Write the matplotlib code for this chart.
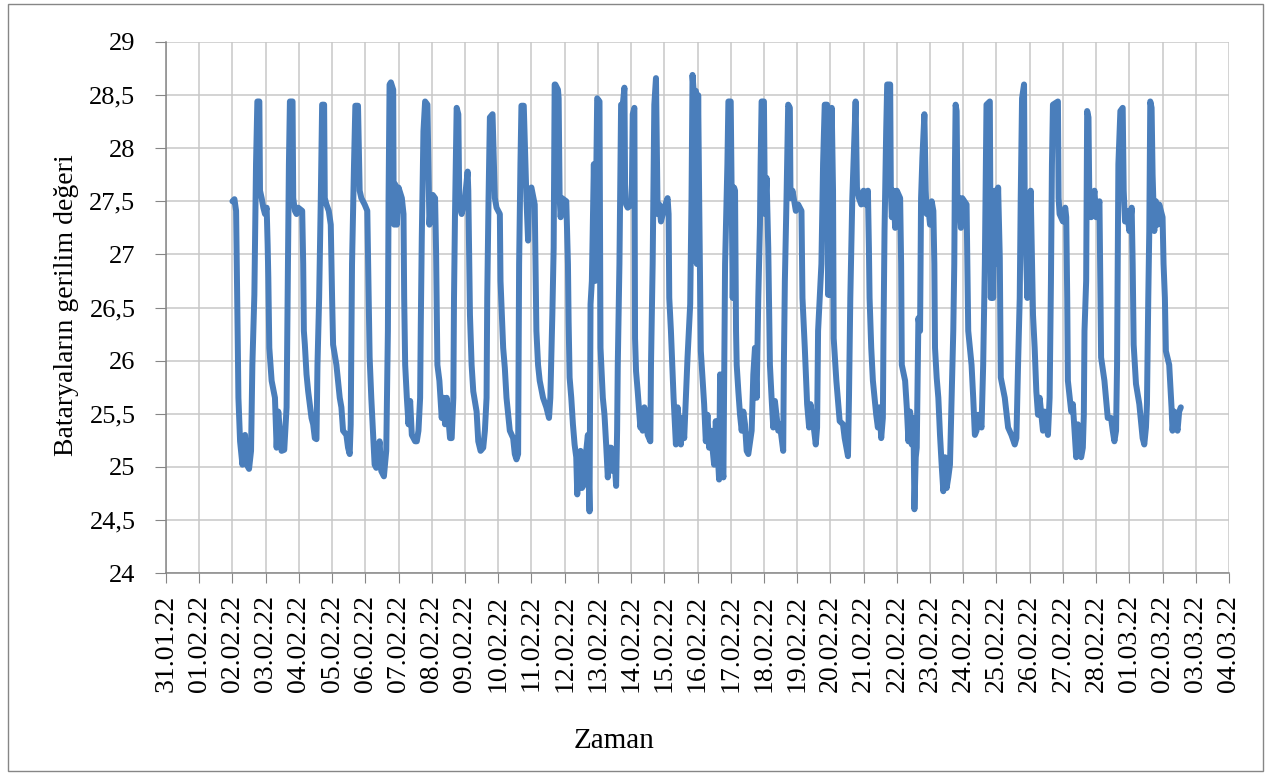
import matplotlib
matplotlib.use("Agg")
import matplotlib.pyplot as plt
from matplotlib.patches import Rectangle

# time in days since 31.01.22 00:00, one line per daily cycle
t_days = [
    2.00, 2.06, 2.11, 2.13, 2.16, 2.18, 2.23, 2.30, 2.38, 2.43, 2.50, 2.56, 2.60, 2.66, 2.71, 2.75, 2.81,
    2.83, 2.88, 2.93, 2.98, 3.03, 3.06, 3.08, 3.11, 3.18, 3.28, 3.33, 3.38, 3.48, 3.56, 3.63, 3.66, 3.70, 3.73, 3.81,
    3.83, 3.88, 3.93, 3.98, 4.10, 4.13, 4.15, 4.18, 4.23, 4.28, 4.38, 4.43, 4.48, 4.53, 4.56, 4.61, 4.66, 4.70, 4.76,
    4.78, 4.83, 4.90, 4.96, 5.00, 5.03, 5.13, 5.23, 5.28, 5.33, 5.43, 5.48, 5.53, 5.56, 5.60, 5.66, 5.70, 5.78,
    5.83, 5.88, 5.98, 6.06, 6.10, 6.13, 6.18, 6.23, 6.28, 6.33, 6.43, 6.48, 6.56, 6.63, 6.68, 6.70, 6.73, 6.77, 6.84,
    6.85, 6.87, 6.90, 6.95, 7.00, 7.10, 7.15, 7.17, 7.20, 7.25, 7.30, 7.35, 7.40, 7.50, 7.55, 7.60, 7.65, 7.67, 7.70, 7.75, 7.80, 7.87,
    7.93, 7.97, 8.03, 8.10, 8.13, 8.17, 8.23, 8.30, 8.35, 8.40, 8.45, 8.55, 8.60, 8.65, 8.67, 8.70, 8.73, 8.75, 8.80,
    8.83, 8.90, 9.00, 9.08, 9.10, 9.13, 9.15, 9.20, 9.25, 9.35, 9.40, 9.47, 9.55, 9.60, 9.65, 9.67, 9.71, 9.75, 9.83,
    9.90, 9.95, 10.05, 10.07, 10.15, 10.20, 10.25, 10.35, 10.45, 10.50, 10.55, 10.60, 10.63, 10.67, 10.70, 10.77,
    10.85, 10.90, 10.93, 11.00, 11.10, 11.13, 11.15, 11.20, 11.25, 11.35, 11.45, 11.53, 11.57, 11.63, 11.67, 11.70, 11.72, 11.80, 11.82,
    11.85, 11.88, 11.92, 12.05, 12.10, 12.12, 12.15, 12.20, 12.25, 12.30, 12.35, 12.38, 12.42, 12.48, 12.52, 12.58, 12.65, 12.70, 12.75, 12.78, 12.82, 12.88, 12.92, 12.95, 12.98, 13.05,
    13.08, 13.15, 13.20, 13.25, 13.30, 13.35, 13.40, 13.45, 13.50, 13.55, 13.58, 13.60, 13.65, 13.70, 13.75, 13.80,
    13.82, 13.85, 13.90, 14.02, 14.05, 14.10, 14.12, 14.15, 14.20, 14.28, 14.32, 14.35, 14.40, 14.50, 14.58, 14.60, 14.65, 14.70, 14.75,
    14.80, 14.85, 14.90, 15.00, 15.10, 15.13, 15.15, 15.20, 15.28, 15.35, 15.40, 15.50, 15.55, 15.60, 15.65, 15.70, 15.78, 15.82, 15.85, 15.90, 15.95, 15.98, 16.02, 16.05,
    16.10, 16.15, 16.20, 16.25, 16.30, 16.35, 16.40, 16.50, 16.55, 16.60, 16.65, 16.68, 16.73, 16.78, 16.83, 16.90, 16.93, 17.00,
    17.03, 17.06, 17.10, 17.13, 17.16, 17.18, 17.23, 17.28, 17.33, 17.38, 17.43, 17.48, 17.53, 17.63, 17.68, 17.73, 17.78, 17.83, 17.88, 17.90, 17.93, 18.00,
    18.03, 18.08, 18.13, 18.18, 18.23, 18.28, 18.33, 18.43, 18.48, 18.58, 18.60, 18.63, 18.68, 18.73, 18.78,
    18.80, 18.86, 18.96, 19.03, 19.13, 19.16, 19.23, 19.30, 19.36, 19.40, 19.50, 19.56, 19.60, 19.63, 19.73, 19.78, 19.83, 19.90,
    19.93, 19.96, 19.98, 20.01, 20.04, 20.08, 20.10, 20.18, 20.28, 20.38, 20.43, 20.53, 20.56, 20.60, 20.66, 20.76,
    20.80, 20.86, 20.93, 21.00, 21.06, 21.13, 21.16, 21.18, 21.23, 21.28, 21.38, 21.43, 21.48, 21.53, 21.58, 21.60, 21.63, 21.68, 21.71, 21.80,
    21.82, 21.85, 21.90, 21.95, 22.00, 22.10, 22.13, 22.15, 22.25, 22.30, 22.35, 22.40, 22.45, 22.50, 22.53, 22.57, 22.60, 22.65, 22.70, 22.73, 22.77, 22.83,
    22.87, 22.90, 22.95, 23.00, 23.05, 23.10, 23.13, 23.15, 23.20, 23.25, 23.30, 23.35, 23.40, 23.45, 23.50, 23.55, 23.60, 23.65, 23.70, 23.73, 23.75, 23.77, 23.80,
    23.83, 23.87, 23.93, 23.97, 24.10, 24.13, 24.15, 24.25, 24.30, 24.35, 24.40, 24.45, 24.55, 24.60, 24.65, 24.70, 24.80,
    24.83, 24.87, 24.90, 24.95, 25.00, 25.05, 25.10, 25.13, 25.25, 25.35, 25.45, 25.55, 25.60, 25.65, 25.70, 25.73, 25.77, 25.83,
    25.85, 25.90, 25.93, 25.97, 26.03, 26.07, 26.10, 26.15, 26.20, 26.25, 26.30, 26.40, 26.45, 26.55, 26.60, 26.64, 26.67, 26.70, 26.85,
    26.87, 26.90, 27.00, 27.07, 27.10, 27.13, 27.15, 27.25, 27.30, 27.35, 27.40, 27.45, 27.50, 27.55, 27.60, 27.63, 27.65, 27.70, 27.73, 27.77,
    27.80, 27.85, 27.95, 28.00, 28.10, 28.13, 28.15, 28.25, 28.35, 28.45, 28.50, 28.55, 28.60, 28.63, 28.65, 28.67, 28.73, 28.80,
    28.83, 28.87, 28.93, 29.00, 29.07, 29.10, 29.13, 29.20, 29.30, 29.40, 29.45, 29.50, 29.53, 29.57, 29.60, 29.63, 29.67,
    29.70, 29.75, 29.80, 29.85, 29.90, 30.00, 30.03, 30.07, 30.10, 30.20, 30.27, 30.30, 30.35, 30.45, 30.50, 30.55,
]

volts = [
    27.50, 27.52, 27.41, 26.94, 26.18, 25.65, 25.24, 25.02, 25.30, 25.02, 24.98, 25.15, 25.96, 26.62, 27.85, 28.44, 28.44,
    27.60, 27.53, 27.44, 27.38, 27.44, 27.09, 26.78, 26.12, 25.81, 25.65, 25.18, 25.52, 25.15, 25.16, 25.56, 26.59, 27.85, 28.44, 28.44,
    27.53, 27.41, 27.38, 27.44, 27.41, 26.91, 26.28, 26.15, 25.87, 25.71, 25.46, 25.40, 25.27, 25.26, 25.96, 26.59, 27.53, 28.41, 28.41,
    27.53, 27.47, 27.41, 27.28, 26.59, 26.15, 25.96, 25.65, 25.56, 25.34, 25.30, 25.18, 25.12, 25.40, 26.91, 27.85, 28.40, 28.40,
    27.60, 27.53, 27.47, 27.41, 26.65, 26.03, 25.65, 25.34, 25.02, 24.99, 25.24, 24.96, 24.91, 25.15, 26.28, 27.53, 28.60, 28.62, 28.55,
    27.69, 27.28, 27.66, 27.28, 27.63, 27.53, 27.38, 26.59, 25.96, 25.65, 25.40, 25.62, 25.30, 25.24, 25.24, 25.34, 25.65, 26.34, 27.16, 28.16, 28.44, 28.41,
    27.28, 27.47, 27.56, 27.53, 27.03, 25.96, 25.81, 25.46, 25.65, 25.40, 25.65, 25.27, 25.27, 25.65, 26.59, 27.38, 28.00, 28.38, 28.32,
    27.47, 27.38, 27.53, 27.78, 27.60, 26.91, 26.43, 25.96, 25.71, 25.52, 25.24, 25.15, 25.18, 25.34, 25.65, 26.59, 27.53, 28.29, 28.32,
    27.53, 27.44, 27.38, 26.75, 26.12, 25.93, 25.65, 25.34, 25.27, 25.12, 25.07, 25.12, 26.91, 27.85, 28.40, 28.40,
    27.53, 27.13, 27.60, 27.63, 27.47, 26.75, 26.28, 25.96, 25.81, 25.65, 25.56, 25.46, 25.65, 26.43, 27.06, 28.60, 28.60, 28.55, 28.47,
    27.53, 27.35, 27.53, 27.50, 26.91, 26.37, 25.84, 25.65, 25.40, 25.21, 25.09, 24.74, 25.12, 25.15, 24.80, 24.83, 25.15, 25.30, 24.58, 26.53, 26.75, 27.85, 26.75, 27.69, 28.47, 28.44,
    26.12, 25.65, 25.49, 25.21, 24.90, 25.18, 25.18, 24.96, 25.09, 24.82, 25.34, 25.96, 26.91, 28.41, 28.41, 28.57,
    27.66, 27.47, 27.44, 27.47, 28.32, 28.38, 26.21, 25.90, 25.71, 25.37, 25.46, 25.34, 25.56, 25.30, 25.24, 25.96, 26.91, 28.41, 28.66,
    27.38, 27.47, 27.31, 27.44, 27.53, 27.38, 26.59, 26.28, 25.65, 25.21, 25.56, 25.21, 25.46, 25.27, 25.65, 26.03, 26.53, 27.53, 28.69, 28.47, 28.54, 26.91, 28.50, 27.53,
    26.09, 25.84, 25.59, 25.24, 25.49, 25.18, 25.34, 25.02, 25.43, 25.18, 24.88, 25.87, 25.02, 24.90, 26.91, 27.85, 28.44, 28.44,
    27.53, 26.59, 27.63, 27.60, 26.28, 25.96, 25.71, 25.49, 25.34, 25.52, 25.40, 25.15, 25.12, 25.34, 25.87, 26.12, 25.65, 26.59, 27.28, 27.85, 28.44, 28.44,
    27.38, 27.72, 27.06, 25.96, 25.65, 25.37, 25.62, 25.34, 25.40, 25.15, 25.96, 26.75, 27.53, 28.41, 28.38,
    27.53, 27.60, 27.41, 27.47, 27.41, 26.59, 26.12, 25.59, 25.37, 25.59, 25.37, 25.21, 25.37, 26.28, 26.91, 27.85, 28.41, 28.41,
    26.62, 27.22, 26.62, 27.85, 28.38, 27.60, 26.21, 25.81, 25.43, 25.40, 25.27, 25.10, 25.65, 26.59, 27.53, 28.44,
    27.63, 27.53, 27.47, 27.60, 27.47, 27.60, 27.06, 26.59, 26.12, 25.81, 25.49, 25.37, 25.56, 25.27, 25.46, 26.28, 27.22, 28.16, 28.60, 28.60,
    27.60, 27.35, 27.60, 27.25, 27.60, 27.53, 26.91, 25.96, 25.81, 25.56, 25.24, 25.52, 25.21, 25.46, 24.60, 25.09, 25.18, 26.40, 26.28, 27.53, 27.91, 28.32,
    27.60, 27.38, 27.44, 27.28, 27.50, 27.41, 26.91, 26.12, 25.84, 25.65, 25.30, 25.02, 24.77, 25.09, 24.80, 24.90, 25.02, 25.65, 26.28, 26.91, 27.85, 28.41, 28.35,
    27.35, 27.53, 27.25, 27.53, 27.47, 26.75, 26.28, 25.96, 25.65, 25.30, 25.34, 25.49, 25.37, 25.96, 26.91, 28.41, 28.44,
    26.59, 27.60, 26.59, 27.60, 26.91, 27.63, 26.97, 25.84, 25.65, 25.37, 25.30, 25.21, 25.27, 25.96, 26.59, 27.53, 28.47, 28.60,
    27.53, 26.91, 26.59, 27.22, 27.60, 26.91, 26.43, 26.12, 25.71, 25.49, 25.65, 25.34, 25.52, 25.30, 25.65, 26.75, 27.85, 28.41, 28.44,
    27.53, 27.38, 27.31, 27.44, 27.35, 26.59, 25.81, 25.52, 25.59, 25.34, 25.09, 25.40, 25.12, 25.09, 25.18, 25.49, 26.28, 26.75, 28.35, 28.29,
    27.38, 27.35, 27.60, 27.35, 27.50, 26.59, 26.03, 25.81, 25.46, 25.46, 25.34, 25.24, 25.34, 25.96, 26.91, 27.85, 28.35, 28.38,
    27.60, 27.31, 27.41, 27.22, 27.44, 26.91, 26.15, 25.78, 25.59, 25.27, 25.21, 25.37, 25.59, 26.59, 27.22, 28.44, 28.38,
    27.75, 27.22, 27.50, 27.28, 27.47, 27.35, 26.91, 26.59, 26.09, 25.96, 25.56, 25.34, 25.52, 25.34, 25.52, 25.56,
]

assert len(t_days) == len(volts), (len(t_days), len(volts))

date_labels = [
    "31.01.22", "01.02.22", "02.02.22", "03.02.22", "04.02.22", "05.02.22", "06.02.22",
    "07.02.22", "08.02.22", "09.02.22", "10.02.22", "11.02.22", "12.02.22", "13.02.22",
    "14.02.22", "15.02.22", "16.02.22", "17.02.22", "18.02.22", "19.02.22", "20.02.22",
    "21.02.22", "22.02.22", "23.02.22", "24.02.22", "25.02.22", "26.02.22", "27.02.22",
    "28.02.22", "01.03.22", "02.03.22", "03.03.22", "04.03.22",
]
y_ticks = [24, 24.5, 25, 25.5, 26, 26.5, 27, 27.5, 28, 28.5, 29]
y_labels = ["24", "24,5", "25", "25,5", "26", "26,5", "27", "27,5", "28", "28,5", "29"]

plt.rcParams["font.family"] = ["Liberation Serif", "DejaVu Serif"]

W, H = 1271, 774
fig = plt.figure(figsize=(W / 100, H / 100), dpi=100)
ax = fig.add_axes([166 / W, 1 - 573 / H, (1229 - 166) / W, (573 - 42) / H])

ax.plot(t_days, volts, color="#4A7EBB", lw=4.3,
        solid_joinstyle="round", solid_capstyle="round", zorder=3)

ax.set_xlim(0, len(date_labels) - 1)
ax.set_ylim(24, 29)
ax.set_xticks(range(len(date_labels)))
ax.set_xticklabels(date_labels, rotation=90, fontsize=20)
ax.set_yticks(y_ticks)
ax.set_yticklabels(y_labels, fontsize=19)

ax.grid(True, color="#C8C8C8", lw=1.1)
ax.set_axisbelow(True)
for s in ["top", "right"]:
    ax.spines[s].set_visible(False)
for s in ["left", "bottom"]:
    ax.spines[s].set_color("#868686")
    ax.spines[s].set_linewidth(1.1)
ax.tick_params(axis="x", length=7, color="#868686", pad=9)
ax.tick_params(axis="y", length=8, color="#868686", pad=14)

fig.text(614 / W, 1 - 741 / H, "Zaman", ha="center", va="center", fontsize=21)
fig.text(67 / W, 1 - 305 / H, "Bataryaların gerilim değeri", rotation=90,
         ha="center", va="center", fontsize=20)

fig.patches.append(Rectangle((8 / W, 3 / H), (1263 - 8) / W, (770 - 3) / H,
                             transform=fig.transFigure, fill=False,
                             ec="#868686", lw=1.0))

fig.savefig("out.png", dpi=100)
